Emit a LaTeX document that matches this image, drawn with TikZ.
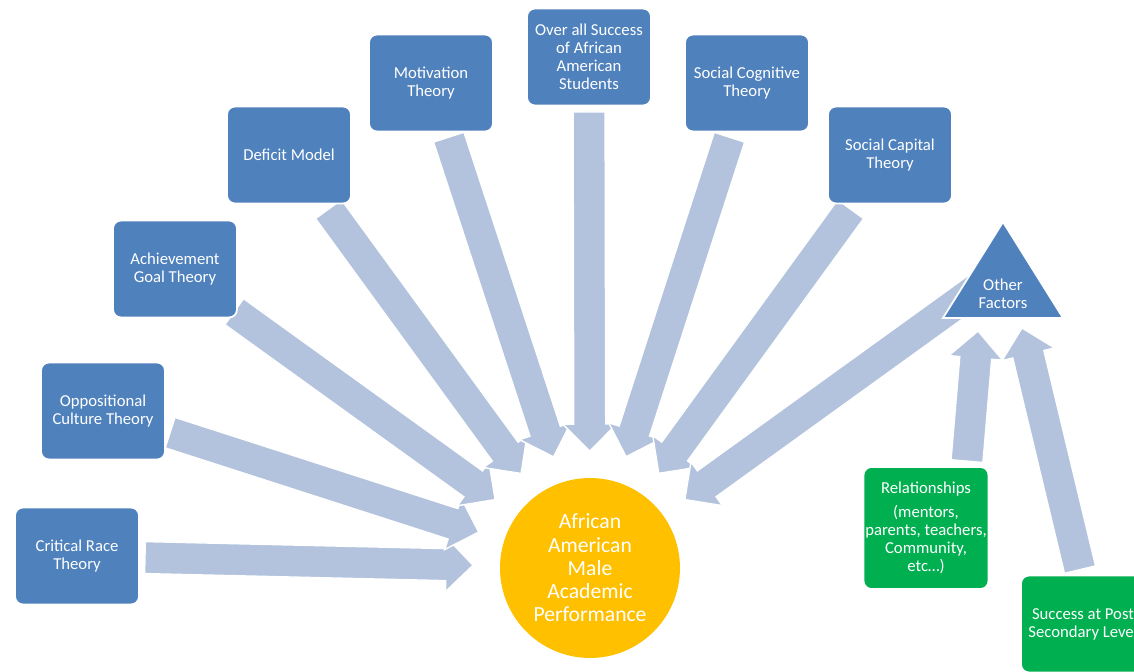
\documentclass[tikz,border=0pt]{standalone}
\usepackage{fontspec}
\setmainfont{Carlito}
\usetikzlibrary{calc,backgrounds}

\definecolor{boxblue}{RGB}{79,129,189}
\definecolor{arrowblue}{RGB}{179,195,221}
\definecolor{boxgreen}{RGB}{0,176,80}
\definecolor{circgold}{RGB}{255,192,0}

% block arrow: #1 tail, #2 tip
\newcommand{\blockarrow}[2]{%
  \coordinate (ba-t) at (#1);
  \coordinate (ba-h) at (#2);
  \coordinate (ba-b) at ($(ba-h)!0.54cm!(ba-t)$);
  \filldraw[blockarr] ($(ba-t)!0.32cm!90:(ba-h)$) -- ($(ba-b)!0.32cm!-90:(ba-t)$)
    -- ($(ba-b)!0.54cm!-90:(ba-t)$) -- (ba-h) -- ($(ba-b)!0.54cm!90:(ba-t)$)
    -- ($(ba-b)!0.32cm!90:(ba-t)$) -- ($(ba-t)!0.32cm!-90:(ba-h)$) -- cycle;
}

\begin{document}
\begin{tikzpicture}[x=0.02cm, y=-0.02cm,
    theory/.style={draw=white, line width=1pt, fill=boxblue, rounded corners=0.16cm,
      minimum width=2.48cm, minimum height=1.94cm, align=center, text=white,
      font=\fontsize{9.5}{10.3}\selectfont, inner sep=1pt},
    factor/.style={theory, fill=boxgreen},
    blockarr/.style={fill=arrowblue, draw=white, line width=0.8pt}]

    \path[use as bounding box] (0,0) rectangle (1134,672);
    \clip (0,0) rectangle (1134,672);

    % Centre
    \node[circle, fill=circgold, minimum size=3.6cm, inner sep=0pt, align=center, text=white,
          font=\fontsize{12.3}{13.2}\selectfont] (aam) at (590,568)
          {African\\American\\Male\\Academic\\Performance};

    % Theories
    \node[theory] (crt)   at (77,556)  {Critical Race\\Theory};
    \node[theory] (oct)   at (103,411) {Oppositional\\Culture Theory};
    \node[theory] (agt)   at (175,269) {Achievement\\Goal Theory};
    \node[theory] (dm)    at (289,155) {Deficit Model};
    \node[theory] (mt)    at (431,83)  {Motivation\\Theory};
    \node[theory] (oss)   at (589,57)  {Over all Success\\of African\\American\\Students};
    \node[theory] (sct)   at (747,83)  {Social Cognitive\\Theory};
    \node[theory] (scapt) at (890,155) {Social Capital\\Theory};

    % Other factors
    \fill[boxblue, draw=white, line width=1pt] (1003,222) -- (1063,318) -- (943,318) -- cycle;
    \node[align=center, text=white, font=\fontsize{9.5}{10.3}\selectfont] (oft) at (1003,294) {Other\\Factors};
    \coordinate (oftail) at (1003,270);

    \node[factor, minimum height=2.44cm] (rel) at (926,528)
          {Relationships\\[3pt](mentors,\\parents, teachers,\\Community,\\etc…)};
    \node[factor] (spl) at (1083,624) {Success at Post\\Secondary Level};

    % Arrows
    \begin{scope}[on background layer]
      \blockarrow{$(crt.center)!1.36cm!(aam.center)$}{$(aam.center)!2.34cm!(crt.center)$}
      \blockarrow{$(oct.center)!1.41cm!(aam.center)$}{$(aam.center)!2.34cm!(oct.center)$}
      \blockarrow{$(agt.center)!1.46cm!(aam.center)$}{$(aam.center)!2.34cm!(agt.center)$}
      \blockarrow{$(dm.center)!1.34cm!(aam.center)$}{$(aam.center)!2.34cm!(dm.center)$}
      \blockarrow{$(mt.center)!1.14cm!(aam.center)$}{$(aam.center)!2.34cm!(mt.center)$}
      \blockarrow{$(oss.center)!1.10cm!(aam.center)$}{$(aam.center)!2.34cm!(oss.center)$}
      \blockarrow{$(sct.center)!1.14cm!(aam.center)$}{$(aam.center)!2.34cm!(sct.center)$}
      \blockarrow{$(scapt.center)!1.34cm!(aam.center)$}{$(aam.center)!2.34cm!(scapt.center)$}
      \blockarrow{oftail}{$(aam.center)!2.34cm!(oftail)$}
      % into the triangle
      \blockarrow{$(rel.north)+(41,-5)$}{978,331}
      \blockarrow{$(spl.north)+(-3,-5)$}{1022,328}
    \end{scope}
\end{tikzpicture}
\end{document}
